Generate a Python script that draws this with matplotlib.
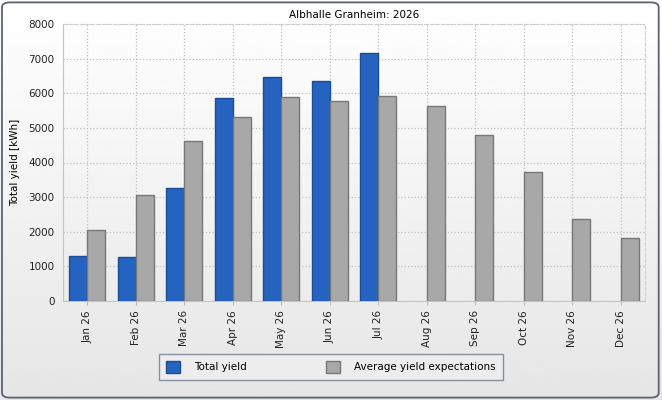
import numpy as np
import matplotlib
matplotlib.use("Agg")
import matplotlib.pyplot as plt
from matplotlib.patches import FancyBboxPatch

months = ["Jan 26", "Feb 26", "Mar 26", "Apr 26", "May 26", "Jun 26",
          "Jul 26", "Aug 26", "Sep 26", "Oct 26", "Nov 26", "Dec 26"]
total_yield = [1300, 1270, 3270, 5850, 6480, 6340, 7160]
avg_expect = [2050, 3060, 4630, 5320, 5880, 5770, 5910, 5620, 4780, 3740, 2370, 1820]
yticks = [0, 1000, 2000, 3000, 4000, 5000, 6000, 7000, 8000]

blue = "#2563c0"
blue_edge = "#1d4c96"
grey = "#a8a8a8"
grey_edge = "#777777"

fig = plt.figure(figsize=(6.62, 4.0), dpi=100)

# background gradient + rounded frame
bg = fig.add_axes([0, 0, 1, 1], zorder=-10)
grad = np.linspace(1.0, 0.9, 256).reshape(-1, 1)
bg.imshow(grad, aspect="auto", cmap="gray", vmin=0, vmax=1,
          extent=[0, 1, 0, 1], origin="upper")
bg.add_patch(FancyBboxPatch((0.003, 0.006), 0.992, 0.988,
                            boxstyle="round,pad=0,rounding_size=0.012",
                            fill=False, edgecolor="#5a6470", lw=1.3,
                            transform=bg.transAxes))
bg.set_xlim(0, 1)
bg.set_ylim(0, 1)
bg.axis("off")

ax = fig.add_axes([63 / 662, 1 - 301 / 400, 582 / 662, 277 / 400])
ax.patch.set_alpha(0.0)

x = np.arange(len(months))
w = 0.375
ax.bar(x[:len(total_yield)] - w / 2, total_yield, w, color=blue,
       edgecolor=blue_edge, lw=1, label="Total yield", zorder=3)
ax.bar(x + w / 2, avg_expect, w, color=grey, edgecolor=grey_edge, lw=1,
       label="Average yield expectations", zorder=3)

ax.set_xlim(-0.5, len(months) - 0.5)
ax.set_ylim(0, 8000)
ax.set_yticks(yticks)
ax.set_xticks(x)
ax.set_xticklabels(months, rotation=90)
ax.tick_params(axis="both", labelsize=7.5, colors="#222222", length=3)
ax.tick_params(axis="x", color="#bbbbbb")
ax.tick_params(axis="y", length=0, pad=6)
ax.grid(True, ls=":", color="#c0c0c0", lw=0.9, zorder=0)
for s in ["left", "bottom"]:
    ax.spines[s].set_color("#c4c4c4")
for s in ["top", "right"]:
    ax.spines[s].set_color("#d0d0d0")
    ax.spines[s].set_linestyle((0, (3, 2)))

ax.set_ylabel("Total yield [kWh]", fontsize=7.5, labelpad=6)
ax.set_title("Albhalle Granheim: 2026", fontsize=7.5, pad=4)

leg = fig.legend(loc="center", bbox_to_anchor=(331 / 662, 1 - 367 / 400),
                 ncol=2, fontsize=7.5, frameon=True, fancybox=False,
                 handlelength=1.3, handleheight=1.3, columnspacing=7.6,
                 borderpad=0.7, handletextpad=1.4)
leg.get_frame().set_edgecolor("#6c7a8a")
leg.get_frame().set_facecolor("#efefef")
leg.get_frame().set_linewidth(1)

fig.savefig("out.png", dpi=100)
